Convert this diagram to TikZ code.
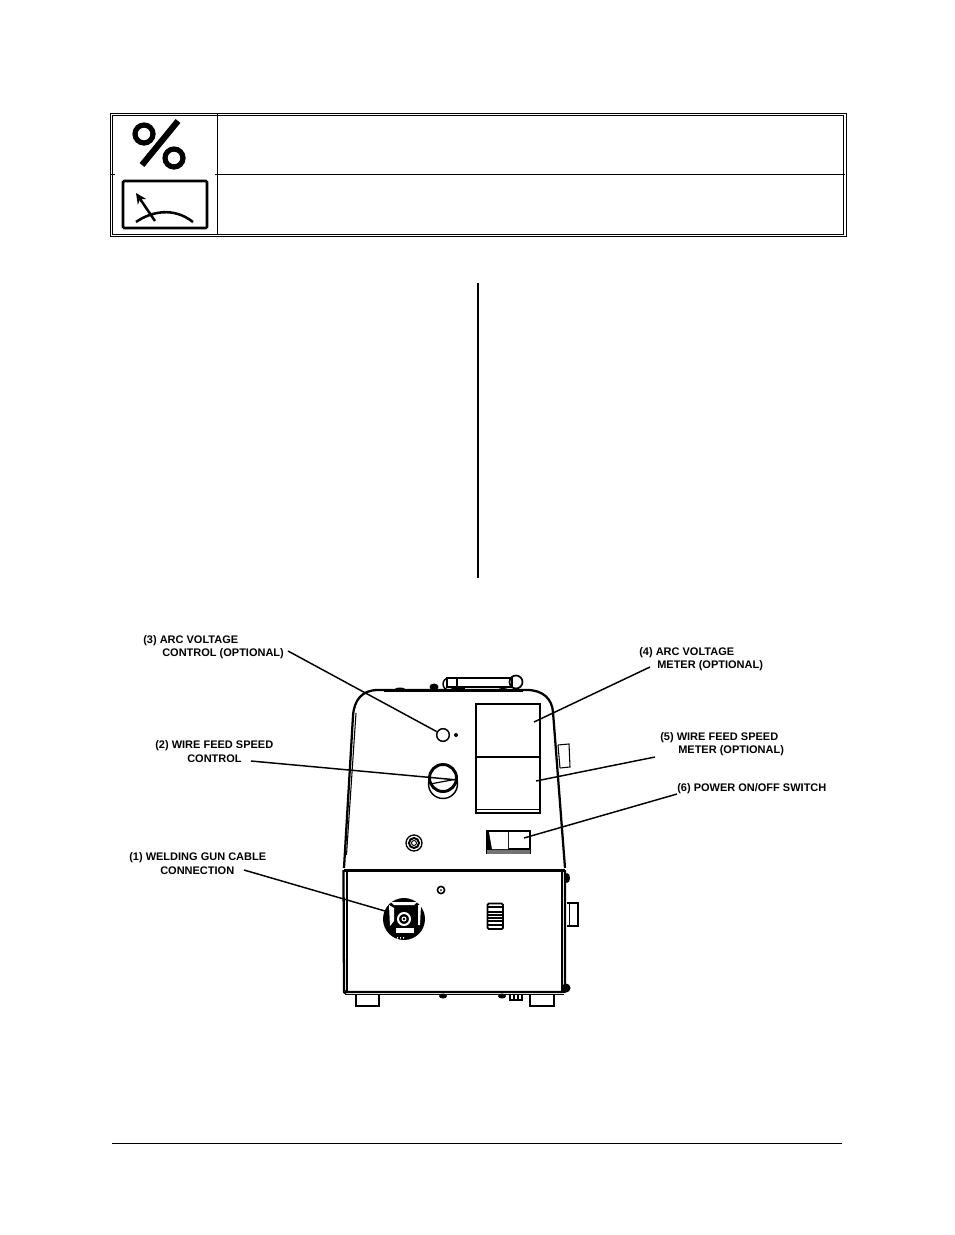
\documentclass[tikz,border=0pt]{standalone}
\usepackage{fontspec}
\setmainfont{Liberation Sans}
\usetikzlibrary{arrows.meta}
\tikzset{
  lbl/.style={anchor=west,inner sep=0pt,font=\bfseries\fontsize{8.25pt}{9pt}\selectfont,text=black},
  leader/.style={line width=1.1pt,black},
  thin line/.style={line width=0.8pt,black},
  body line/.style={line width=1.7pt,black,line join=round},
  heavy/.style={line width=2.1pt,black,line join=round}
}
\begin{document}
\begin{tikzpicture}[x=0.75pt,y=-0.75pt]
\useasboundingbox (0,0) rectangle (954,1235);
\fill[white] (0,0) rectangle (954,1235);

% ---------- table ----------
\draw[line width=0.75pt] (110,113) rectangle (846,236.5);
\draw[line width=0.4pt] (112.5,115.5) rectangle (843.5,234);
\draw[line width=0.7pt] (217,114) -- (217,235);
\draw[line width=0.7pt] (215,174) -- (845,174);
\draw[line width=0.7pt] (111,174) -- (115,174);
% percent symbol
\draw[line width=3.9pt] (144,134) circle (9);
\draw[line width=3.9pt] (174,158) circle (9);
\draw[line width=4.6pt] (178,121) -- (142,165);
% meter symbol
\draw[line width=2pt,rounded corners=1pt] (123,181) rectangle (207,228);
\draw[line width=1.9pt,-{Stealth[length=8pt,width=7.5pt]}] (155,221) -- (136,193);
\draw[line width=1.9pt] (136,222) .. controls (152,211) and (174,207) .. (193,222);

% column rule, foot rule
\draw[line width=1.4pt] (478,283) -- (478,578);
\draw[line width=0.7pt] (112,1143) -- (842,1143);

% ---------- machine: upper housing ----------
\draw[body line] (344,868) -- (353,716) .. controls (354,700) and (362,690) .. (378,690)
  -- (527,690) .. controls (543,690) and (552,699) .. (553,712) -- (565,868);
\draw[thin line] (346.5,855) -- (356,713);
\draw[thin line] (558,745) -- (569,744) -- (570,767) -- (560,768);
\draw[thin line] (558,745) -- (560,768);
% handle
\draw[line width=1.1pt] (449,684) circle (6);
\draw[line width=1.1pt,fill=white] (447,678) rectangle (512,687);
\draw[line width=1.1pt] (457,678) -- (457,687);
\draw[line width=1.3pt] (516,682) circle (6.5);
\draw[line width=2pt] (384,691) -- (523,691);
\fill (434,687) ellipse (4.5 and 3.5);
\fill (400,689) ellipse (5 and 1.5);
\fill (388,690) ellipse (3 and 1);
\fill (503,689.5) ellipse (5 and 1.5);
\draw[line width=1pt] (452,689) -- (465,689);
\draw[line width=1pt] (453,687) -- (453,690);

% meters
\draw[line width=1.1pt] (476,704) rectangle (540,813);
\draw[line width=1.6pt] (476,757) -- (540,757);
\draw[line width=0.7pt] (476,809) -- (540,809);
\draw[line width=1.4pt] (476,813) -- (540,813);

% controls
\node[circle,draw,line width=1.1pt,minimum size=9.5pt,inner sep=0pt] (hole) at (443,735) {};
\fill (456,735) circle (2);
\draw[line width=1.1pt,fill=white] (443,784) circle (14.5);
\draw[line width=2.2pt,fill=white] (443,778) circle (13.5);
\node[circle,inner sep=0pt,minimum size=1pt] (knob) at (458,780) {};
\draw[line width=0.9pt] (430,784) -- (457,779);
\draw[line width=1pt] (414,843) circle (8);
\draw[line width=1.5pt] (414,843) circle (5);
\draw[line width=0.7pt] (414,843) circle (2.5);

% rocker switch
\fill (486,830) rectangle (531,854);
\fill[white] (489,832) -- (508,832) -- (508,849) -- (492,849) -- cycle;
\fill[white] (509,832) rectangle (529,848);
\fill[black!55] (487,850) rectangle (530,854);

% ---------- lower housing ----------
\draw[heavy] (343.5,870.5) -- (564.5,870.5);
\draw[body line] (343.5,870) -- (344,992) -- (565,992) -- (565,870);
\draw[thin line] (347,871) -- (347,991);
\draw[thin line] (562,871) -- (562,991);
\draw[thin line] (345,994.5) -- (564,994.5);
\fill (567,878) ellipse (3 and 5);
\fill (566,988) circle (4.5);
\fill (345,992) circle (2);
\draw[thin line] (567,903) -- (578,903) -- (578,926) -- (567,926);
\draw[thin line] (569.5,903) -- (569.5,926);
\draw[thin line] (356,995) -- (356,1006) -- (379,1006) -- (379,995);
\draw[thin line] (530,995) -- (530,1006) -- (554,1006) -- (554,995);
\fill (443,996) ellipse (4 and 2.5);
\fill (502,996) ellipse (4 and 2.5);
\draw[thin line] (510,995) -- (510,1000) -- (522,1000) -- (522,995);
\draw[thin line] (514,995) -- (514,1000) (518,995) -- (518,1000);

% screw
\draw[line width=1.2pt] (441,890) circle (3.6);
\fill (441,890) circle (1);
% slide switch
\draw[line width=1.4pt,rounded corners=1pt,fill=white] (487.5,903.5) rectangle (503,929);
\foreach \yy in {907,912,915,918,921,925} \draw[line width=0.8pt] (488,\yy) -- (503,\yy);

% cable socket
\fill (404,919) circle (21);
\fill[white] (389,905) -- (390,926) -- (394,921) -- (394,908) -- cycle;
\fill[white] (391,902) -- (417,902) -- (414,905) -- (394,905) -- cycle;
\fill[white] (418,905) -- (421,905) -- (420,925) -- (418,925) -- cycle;
\fill[white] (396,928) rectangle (414,933);
\draw[white,line width=1.5pt] (404,919) circle (6);
\fill[white] (404,919) circle (2.5);
\fill[black] (404,919) circle (1.4);
\fill[white] (397,937) rectangle (398,938.5) (400,937) rectangle (401,938.5) (403,937) rectangle (404,938.5);

% ---------- labels ----------
\node[lbl] (l3a) at (143,641) {(3) ARC VOLTAGE};
\node[lbl] (l3b) at (162,654) {CONTROL (OPTIONAL)};
\node[lbl] (l4a) at (639,653) {(4) ARC VOLTAGE};
\node[lbl] (l4b) at (657,666) {METER (OPTIONAL)};
\node[lbl] (l2a) at (155,746) {(2) WIRE FEED SPEED};
\node[lbl] (l2b) at (187,759) {CONTROL};
\node[lbl] (l5a) at (660,738) {(5) WIRE FEED SPEED};
\node[lbl] (l5b) at (678,751) {METER (OPTIONAL)};
\node[lbl] (l6) at (677,789) {(6) POWER ON/OFF SWITCH};
\node[lbl] (l1a) at (129,858) {(1) WELDING GUN CABLE};
\node[lbl] (l1b) at (160,871) {CONNECTION};

% ---------- leaders ----------
\coordinate (s3) at (288,651);
\coordinate (s2) at (251,761);
\coordinate (s1) at (244,870);
\coordinate (s4) at (650,667);
\coordinate (s5) at (655,757);
\coordinate (s6) at (677,794);
\coordinate (t1) at (385,911);
\coordinate (t4) at (534,722);
\coordinate (t5) at (536,781);
\coordinate (t6) at (524,838);
\draw[leader] (s3) -- (hole);
\draw[leader] (s2) -- (knob);
\draw[leader] (s1) -- (t1);
\draw[leader] (s4) -- (t4);
\draw[leader] (s5) -- (t5);
\draw[leader] (s6) -- (t6);
\end{tikzpicture}
\end{document}
